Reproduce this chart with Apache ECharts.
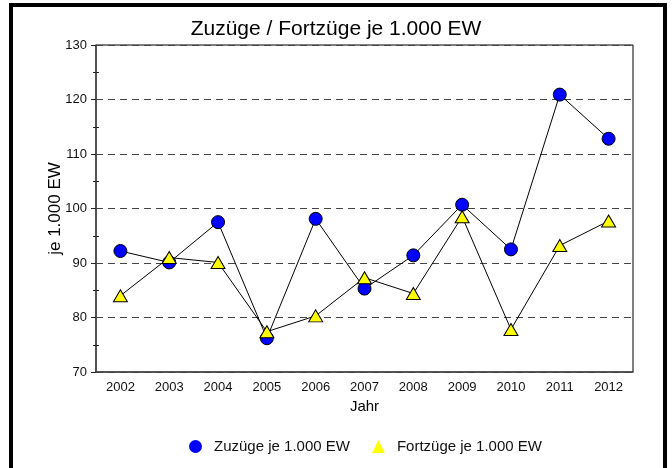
<!DOCTYPE html>
<html>
<head>
<meta charset="utf-8">
<script src="https://cdn.jsdelivr.net/npm/echarts@6/dist/echarts.min.js"></script>
<style>
  html, body { margin: 0; padding: 0; background: #fff; }
  #chart { width: 672px; height: 468px; }
</style>
</head>
<body>
<div id="chart"></div>
<script>
var years = ['2002', '2003', '2004', '2005', '2006', '2007', '2008', '2009', '2010', '2011', '2012'];
var zuzuege = [92.2, 90.1, 97.5, 76.2, 98.1, 85.3, 91.4, 100.7, 92.5, 120.9, 112.8];
var fortzuege = [84.0, 91.0, 90.1, 77.4, 80.3, 87.3, 84.4, 98.5, 77.8, 93.2, 97.7];

var font = 'Arial, "Liberation Sans", sans-serif';

var chart = echarts.init(document.getElementById('chart'));

var option = {
  animation: false,
  textStyle: { fontFamily: font },
  title: {
    text: 'Zuzüge / Fortzüge je 1.000 EW',
    left: 'center',
    top: 19,
    padding: 0,
    textStyle: { fontSize: 21, fontWeight: 'normal', color: '#000', fontFamily: font }
  },
  legend: {
    left: 184,
    top: 434,
    itemWidth: 13,
    itemHeight: 13,
    itemGap: 22,
    textStyle: { fontSize: 15, color: '#111', fontFamily: font, padding: [0, 0, 0, 7] },
    data: [
      { name: 'Zuzüge je 1.000 EW', icon: 'circle', itemStyle: { borderWidth: 0 } },
      { name: 'Fortzüge je 1.000 EW', icon: 'triangle', itemStyle: { borderWidth: 0 } }
    ]
  },
  grid: {
    left: 96,
    right: 39,
    top: 45,
    bottom: 96,
    show: true,
    borderColor: '#000',
    borderWidth: 1
  },
  xAxis: [{
    type: 'category',
    data: years,
    boundaryGap: true,
    name: 'Jahr',
    nameLocation: 'middle',
    nameGap: 27,
    nameTextStyle: { fontSize: 15, color: '#000' },
    axisLine: { lineStyle: { color: '#444', width: 1.5 } },
    axisTick: { alignWithLabel: true, length: 5, lineStyle: { color: '#222' } },
    axisLabel: { fontSize: 13, color: '#111', margin: 9 }
  }, {
    // ticks on the inside of the axis
    type: 'category',
    data: years,
    position: 'bottom',
    axisLine: { show: false },
    axisLabel: { show: false },
    axisTick: { alignWithLabel: true, inside: true, length: 6, lineStyle: { color: '#222' } }
  }],
  yAxis: [{
    type: 'value',
    min: 70,
    max: 130,
    interval: 10,
    name: 'je 1.000 EW',
    nameLocation: 'middle',
    nameGap: 32,
    nameMoveOverlap: false,
    nameTextStyle: { fontSize: 17, color: '#000' },
    axisLine: { show: true, lineStyle: { color: '#444', width: 1.5 } },
    axisTick: { show: true, length: 5, lineStyle: { color: '#222' } },
    minorTick: { show: true, splitNumber: 2, length: 3, lineStyle: { color: '#222' } },
    axisLabel: { fontSize: 13, color: '#111', margin: 9 },
    splitLine: { show: true, lineStyle: { color: '#444', type: [7, 5], width: 1 } }
  }, {
    type: 'value',
    min: 70,
    max: 130,
    interval: 10,
    position: 'left',
    axisLine: { show: false },
    axisLabel: { show: false },
    splitLine: { show: false },
    axisTick: { show: false, inside: true },
    minorTick: { show: true, splitNumber: 2, length: 3, lineStyle: { color: '#222' } }
  }],
  series: [{
    name: 'Zuzüge je 1.000 EW',
    type: 'line',
    data: zuzuege,
    symbol: 'circle',
    symbolSize: 13,
    showAllSymbol: true,
    lineStyle: { color: '#000', width: 1 },
    itemStyle: { color: '#0000ff', borderColor: '#000', borderWidth: 1 }
  }, {
    name: 'Fortzüge je 1.000 EW',
    type: 'line',
    data: fortzuege,
    symbol: 'triangle',
    symbolSize: [14, 12],
    showAllSymbol: true,
    lineStyle: { color: '#000', width: 1 },
    itemStyle: { color: '#ffff00', borderColor: '#000', borderWidth: 1 }
  }],
  graphic: [{
    type: 'rect',
    shape: { x: 11, y: 5, width: 654, height: 480 },
    style: { fill: null, stroke: '#000', lineWidth: 4 },
    silent: true,
    z: 100
  }]
};

chart.setOption(option);
</script>
</body>
</html>
